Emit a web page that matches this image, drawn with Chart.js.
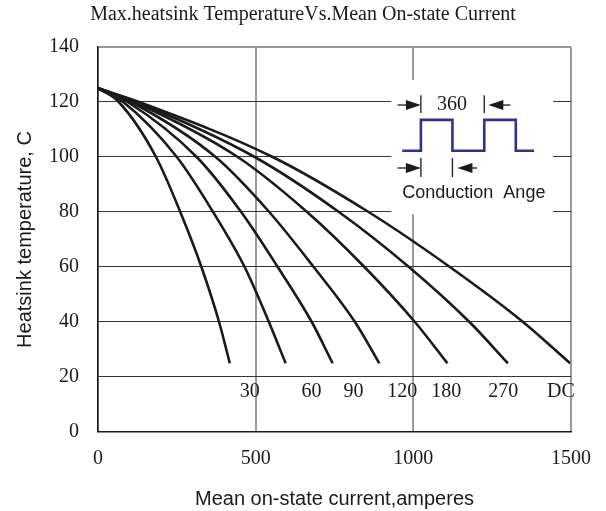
<!DOCTYPE html>
<html><head><meta charset="utf-8">
<script src="https://cdn.jsdelivr.net/npm/chart.js@4"></script>
<style>html,body{margin:0;padding:0;background:#fff}</style>
</head><body>
<canvas id="c" width="606" height="511"></canvas>
<script>
// ---- data ----
const temps = [125, 120, 100, 80, 60, 40, 25];           // heatsink temperature, C
const I30  = [0,  66, 184, 261, 328,  384,  418];         // mean current, A
const I60  = [0,  80, 250, 365, 465,  542,  595];
const I90  = [0,  94, 313, 454, 570,  678,  744];
const I120 = [0, 105, 373, 543, 684,  815,  892];
const I180 = [0, 115, 443, 663, 845, 1005, 1108];
const I270 = [0, 123, 497, 764, 986, 1178, 1300];
const IDC  = [0, 130, 554, 858, 1116, 1348, 1497];
const curveNames = ['30', '60', '90', '120', '180', '270', 'DC'];
const curveLabelX = [481, 677, 810, 965, 1104, 1285, 1468];
const curveLabelY = 14.5;
const xTicks = [0, 500, 1000, 1500];
const yTicks = [0, 20, 40, 60, 80, 100, 120, 140];
const titleText = 'Max.heatsink TemperatureVs.Mean On-state Current';
const xTitle = 'Mean on-state current,amperes';
const yTitle = 'Heatsink temperature, C';

const series = [I30, I60, I90, I120, I180, I270, IDC];
const datasets = series.map((arr, i) => ({
  label: curveNames[i],
  data: arr.map((x, j) => ({x: x, y: temps[j]})),
  borderColor: '#1a1a1a',
  borderWidth: 2.6,
  pointRadius: 0,
  fill: false,
  cubicInterpolationMode: 'monotone'
}));

const serif = '"Liberation Serif", "DejaVu Serif", serif';
const sans = '"Liberation Sans", Arial, sans-serif';

const titlePlugin = {
  id: 'topTitle',
  afterDraw(chart) {
    const ctx = chart.ctx;
    ctx.save();
    ctx.font = '20px ' + serif;
    ctx.fillStyle = '#1a1a1a';
    ctx.textAlign = 'center';
    ctx.textBaseline = 'middle';
    ctx.fillText(titleText, 303, 15);
    ctx.restore();
  }
};

const curveLabelPlugin = {
  id: 'curveLabels',
  afterDatasetsDraw(chart) {
    const ctx = chart.ctx, xs = chart.scales.x, ys = chart.scales.y;
    ctx.save();
    ctx.font = '20px ' + serif;
    ctx.fillStyle = '#1a1a1a';
    ctx.textAlign = 'center';
    ctx.textBaseline = 'middle';
    curveNames.forEach((n, i) => {
      ctx.fillText(n, xs.getPixelForValue(curveLabelX[i]), ys.getPixelForValue(curveLabelY));
    });
    ctx.restore();
  }
};

function arrowHead(ctx, tipX, y, dir) { // dir: +1 pointing right, -1 pointing left
  ctx.beginPath();
  ctx.moveTo(tipX, y);
  ctx.lineTo(tipX - dir * 15, y - 5);
  ctx.lineTo(tipX - dir * 15, y + 5);
  ctx.closePath();
  ctx.fill();
}

const insetPlugin = {
  id: 'inset',
  beforeDatasetsDraw(chart) {
    const ctx = chart.ctx, xs = chart.scales.x, ys = chart.scales.y;
    const X = v => xs.getPixelForValue(v), Y = v => ys.getPixelForValue(v);
    ctx.save();
    // white box that interrupts the grid
    ctx.fillStyle = '#fff';
    ctx.fillRect(X(930), Y(128), X(1443) - X(930), Y(79.2) - Y(128));
    // waveform
    const wx = [965, 1024, 1124, 1225, 1325, 1383];
    const lo = Y(102.3), hi = Y(113.5);
    ctx.strokeStyle = '#2e3192';
    ctx.lineWidth = 2.6;
    ctx.lineJoin = 'miter';
    ctx.beginPath();
    ctx.moveTo(X(wx[0]), lo);
    ctx.lineTo(X(wx[1]), lo); ctx.lineTo(X(wx[1]), hi);
    ctx.lineTo(X(wx[2]), hi); ctx.lineTo(X(wx[2]), lo);
    ctx.lineTo(X(wx[3]), lo); ctx.lineTo(X(wx[3]), hi);
    ctx.lineTo(X(wx[4]), hi); ctx.lineTo(X(wx[4]), lo);
    ctx.lineTo(X(wx[5]), lo);
    ctx.stroke();
    // dimension arrows
    ctx.strokeStyle = '#1a1a1a';
    ctx.fillStyle = '#1a1a1a';
    ctx.lineWidth = 1.3;
    const topY = Y(118.9), botY = Y(96);
    const tL = X(1024), tR = X(1225), bR = X(1124);
    // top left
    ctx.beginPath(); ctx.moveTo(X(950), topY); ctx.lineTo(tL - 10, topY); ctx.stroke();
    arrowHead(ctx, tL, topY, 1);
    ctx.beginPath(); ctx.moveTo(tL, Y(122.5)); ctx.lineTo(tL, Y(116)); ctx.stroke();
    // top right
    ctx.beginPath(); ctx.moveTo(tR + 10, topY); ctx.lineTo(X(1308), topY); ctx.stroke();
    arrowHead(ctx, tR + 4, topY, -1);
    ctx.beginPath(); ctx.moveTo(tR, Y(122.5)); ctx.lineTo(tR, Y(116)); ctx.stroke();
    // bottom left
    ctx.beginPath(); ctx.moveTo(X(950), botY); ctx.lineTo(tL - 10, botY); ctx.stroke();
    arrowHead(ctx, tL, botY, 1);
    ctx.beginPath(); ctx.moveTo(tL, Y(99.6)); ctx.lineTo(tL, Y(92.7)); ctx.stroke();
    // bottom right
    ctx.beginPath(); ctx.moveTo(bR + 10, botY); ctx.lineTo(X(1202), botY); ctx.stroke();
    arrowHead(ctx, bR + 5, botY, -1);
    ctx.beginPath(); ctx.moveTo(bR, Y(99.6)); ctx.lineTo(bR, Y(92.7)); ctx.stroke();
    // texts
    ctx.textBaseline = 'middle';
    ctx.textAlign = 'center';
    ctx.font = '20px ' + serif;
    ctx.fillText('360', X(1123), topY);
    ctx.textAlign = 'left';
    ctx.font = '18px ' + sans;
    ctx.fillText('Conduction  Ange', X(965), Y(86.9));
    ctx.restore();
  }
};

new Chart(document.getElementById('c'), {
  type: 'line',
  data: { datasets },
  plugins: [insetPlugin, curveLabelPlugin, titlePlugin],
  options: {
    responsive: false,
    animation: false,
    devicePixelRatio: 1,
    layout: { padding: { top: 47, right: 34, left: 0, bottom: 0 } },
    plugins: { legend: { display: false }, tooltip: { enabled: false }, title: { display: false } },
    scales: {
      x: {
        type: 'linear', min: 0, max: 1500,
        afterBuildTicks: s => { s.ticks = xTicks.map(v => ({value: v})); },
        afterFit: s => { s.height = 79; },
        ticks: { font: { family: serif, size: 20 }, color: '#1a1a1a', padding: 15, maxRotation: 0,
                 callback: v => String(v) },
        grid: { color: '#9a9a9a', lineWidth: 2, drawTicks: false },
        border: { color: '#1a1a1a', width: 1.5 },
        title: { display: true, text: xTitle, font: { family: sans, size: 20 }, color: '#1a1a1a', padding: { top: 2, bottom: 0 } }
      },
      y: {
        type: 'linear', min: 0, max: 140,
        afterBuildTicks: s => { s.ticks = yTicks.map(v => ({value: v})); },
        afterFit: s => { s.width = 98; },
        ticks: { font: { family: serif, size: 20 }, color: '#1a1a1a', padding: 19, callback: v => String(v) },
        grid: {
          color: c => (c.tick && c.tick.value === 140) ? '#9a9a9a' : '#333',
          lineWidth: c => (c.tick && c.tick.value === 140) ? 2 : 1.1,
          drawTicks: false
        },
        border: { color: '#1a1a1a', width: 1.5 },
        title: { display: true, text: yTitle, font: { family: sans, size: 20 }, color: '#1a1a1a', padding: { top: 13, bottom: 0 } }
      }
    }
  }
});
</script>
</body></html>
